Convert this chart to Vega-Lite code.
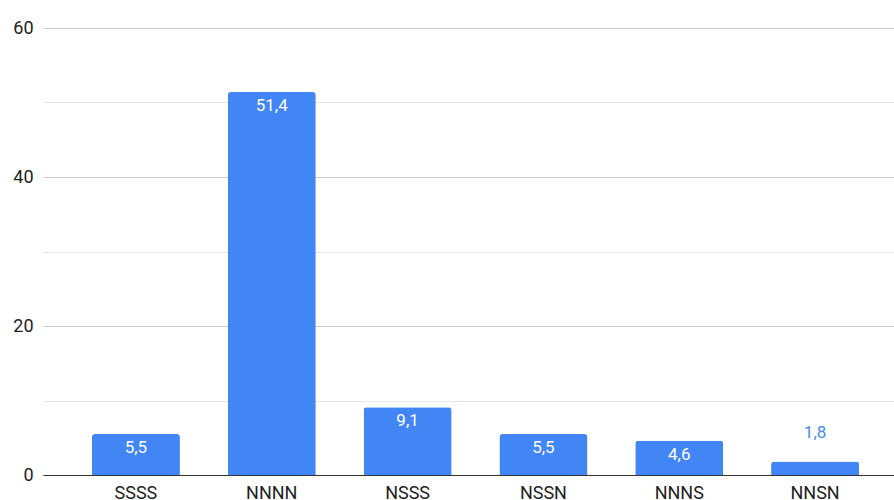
{
  "$schema": "https://vega.github.io/schema/vega-lite/v6.json",
  "width": 865,
  "height": 447,
  "autosize": {"type": "none"},
  "padding": {"left": 43, "top": 28, "right": 0, "bottom": 25},
  "config": {
    "font": "Roboto",
    "view": {"stroke": null},
    "locale": {"number": {"decimal": ",", "thousands": ".", "grouping": [3], "currency": ["", " €"]}}
  },
  "data": {
    "values": [
      {"cat": "SSSS", "val": 5.5},
      {"cat": "NNNN", "val": 51.4},
      {"cat": "NSSS", "val": 9.1},
      {"cat": "NSSN", "val": 5.5},
      {"cat": "NNNS", "val": 4.6},
      {"cat": "NNSN", "val": 1.8}
    ]
  },
  "encoding": {
    "x": {
      "field": "cat", "type": "nominal", "sort": null,
      "scale": {"paddingInner": 0.352, "paddingOuter": 0.36},
      "axis": {
        "title": null, "labelAngle": 0, "ticks": false, "labelPadding": 9,
        "labelFontSize": 18, "labelColor": "#222222", "domainColor": "#333333", "domainWidth": 1.2,
        "labelFont": "Roboto"
      }
    },
    "y": {
      "field": "val", "type": "quantitative",
      "scale": {"domain": [0, 60], "nice": false},
      "axis": {
        "title": null, "values": [0, 10, 20, 30, 40, 50, 60], "ticks": false, "domain": false,
        "labelExpr": "datum.value % 20 === 0 ? datum.label : ''",
        "labelPadding": 10, "labelFontSize": 18, "labelColor": "#222222", "labelFont": "Roboto",
        "gridColor": {"condition": {"test": "datum.value % 20 === 0", "value": "#cccccc"}, "value": "#e6e6e6"},
        "gridWidth": 1.2
      }
    }
  },
  "layer": [
    {
      "mark": {"type": "bar", "color": "#4285F4", "cornerRadiusTopLeft": 3, "cornerRadiusTopRight": 3}
    },
    {
      "transform": [{"filter": "datum.val >= 3"}],
      "mark": {"type": "text", "color": "#ffffff", "baseline": "top", "dy": 6, "fontSize": 17, "font": "Roboto"},
      "encoding": {"text": {"field": "val", "type": "quantitative", "format": ".1f"}}
    },
    {
      "transform": [{"filter": "datum.val < 3"}],
      "mark": {"type": "text", "color": "#4a8af4", "baseline": "bottom", "dy": -20, "fontSize": 17, "font": "Roboto"},
      "encoding": {"text": {"field": "val", "type": "quantitative", "format": ".1f"}}
    }
  ]
}
